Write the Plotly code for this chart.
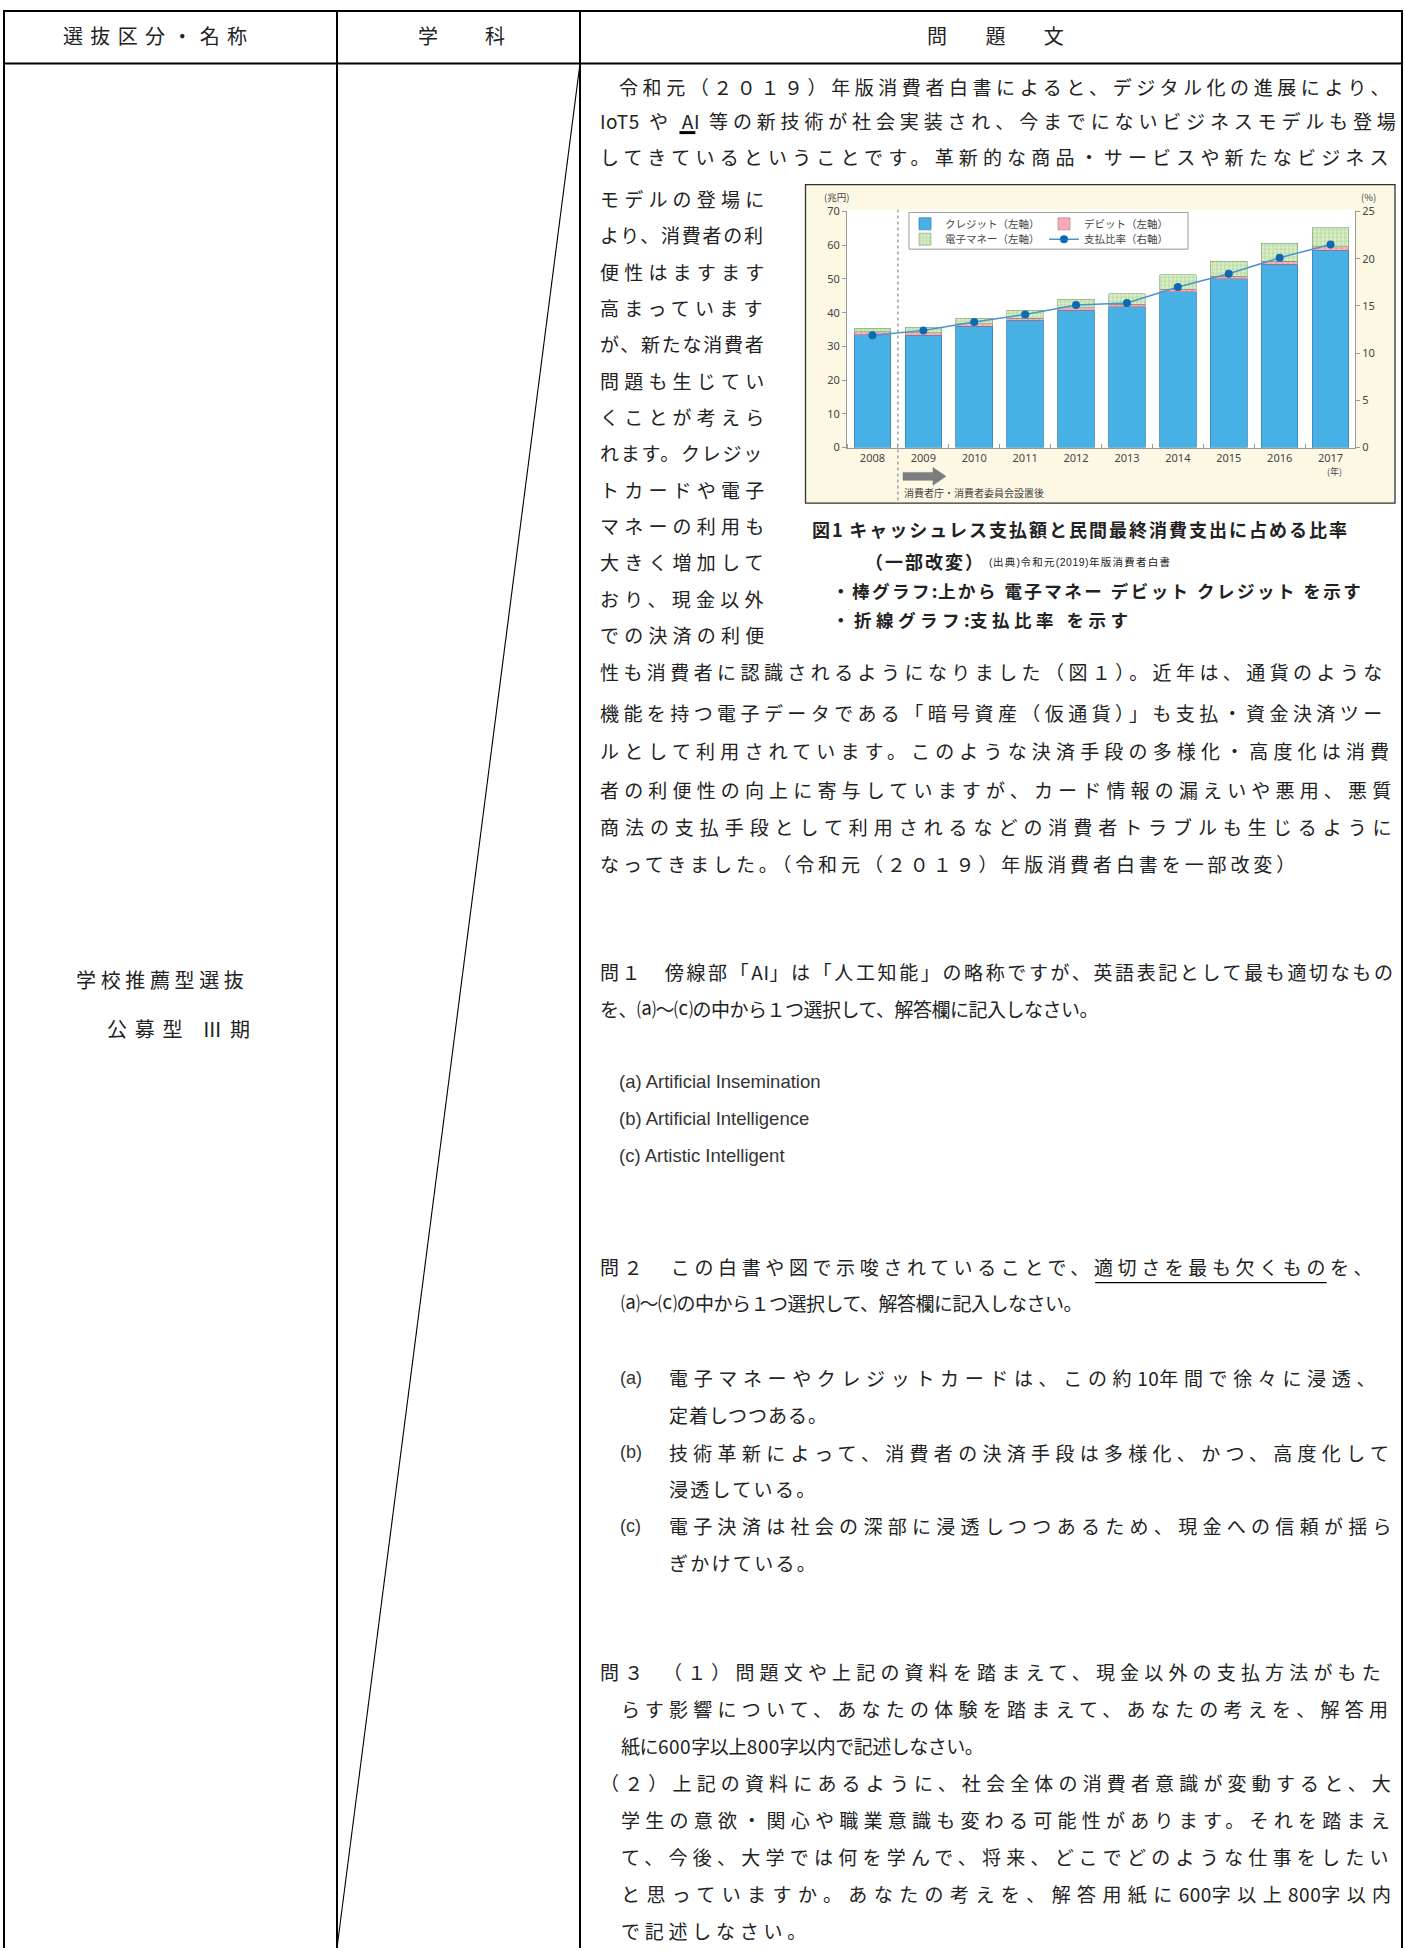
import plotly.graph_objects as go

# ---------------- chart data ----------------
years = [2008, 2009, 2010, 2011, 2012, 2013, 2014, 2015, 2016, 2017]
year_labels = ["2008", "2009", "2010", "2011", "2012", "2013", "2014", "2015", "2016", "2017"]
credit = [33.5, 33.3, 36.0, 37.7, 40.7, 41.8, 46.2, 50.0, 54.3, 58.5]
debit = [0.8, 0.8, 0.7, 0.7, 0.7, 0.7, 0.8, 0.8, 1.0, 1.1]
emoney = [1.1, 1.6, 1.7, 2.3, 2.5, 3.1, 4.3, 4.5, 5.2, 5.6]
ratio = [11.9, 12.4, 13.3, 14.1, 15.1, 15.3, 17.0, 18.4, 20.1, 21.5]
left_ticks = [0, 10, 20, 30, 40, 50, 60, 70]
right_ticks = [0, 5, 10, 15, 20, 25]
series_names = ["クレジット（左軸）", "デビット（左軸）", "電子マネー（左軸）", "支払比率（右軸）"]

# ---------------- page text ----------------
header_texts = ["選抜区分・名称", "学　科", "問　題　文"]
left_texts = ["学校推薦型選抜", "公募型 Ⅲ期"]
intro_lines = [
    "令和元（２０１９）年版消費者白書によると、デジタル化の進展により、",
    "IoT5 や AI 等の新技術が社会実装され、今までにないビジネスモデルも登場",
    "してきているということです。革新的な商品・サービスや新たなビジネス",
]
narrow_lines = [
    "モデルの登場に", "より、消費者の利", "便性はますます", "高まっています",
    "が、新たな消費者", "問題も生じてい", "くことが考えら", "れます。クレジッ",
    "トカードや電子", "マネーの利用も", "大きく増加して", "おり、現金以外", "での決済の利便",
]
after_lines = [
    "性も消費者に認識されるようになりました（図１）。近年は、通貨のような",
    "機能を持つ電子データである「暗号資産（仮通貨）」も支払・資金決済ツー",
    "ルとして利用されています。このような決済手段の多様化・高度化は消費",
    "者の利便性の向上に寄与していますが、カード情報の漏えいや悪用、悪質",
    "商法の支払手段として利用されるなどの消費者トラブルも生じるように",
    "なってきました。（令和元（２０１９）年版消費者白書を一部改変）",
]
caption_lines = [
    "図1 キャッシュレス支払額と民間最終消費支出に占める比率",
    "（一部改変）",
    "(出典)令和元(2019)年版消費者白書",
    "・棒グラフ:上から 電子マネー デビット クレジット を示す",
    "・折線グラフ:支払比率 を示す",
]
q1_lines = [
    "問１　傍線部「AI」は「人工知能」の略称ですが、英語表記として最も適切なもの",
    "を、⒜～⒞の中から１つ選択して、解答欄に記入しなさい。",
]
q1_options = ["(a) Artificial Insemination", "(b) Artificial Intelligence", "(c) Artistic Intelligent"]
q2_lines = [
    "問２　この白書や図で示唆されていることで、適切さを最も欠くものを、",
    "⒜～⒞の中から１つ選択して、解答欄に記入しなさい。",
]
q2_labels = ["(a)", "(b)", "(c)"]
q2_option_lines = [
    "電子マネーやクレジットカードは、この約10年間で徐々に浸透、",
    "定着しつつある。",
    "技術革新によって、消費者の決済手段は多様化、かつ、高度化して",
    "浸透している。",
    "電子決済は社会の深部に浸透しつつあるため、現金への信頼が揺ら",
    "ぎかけている。",
]
q3_lines = [
    "問３　（１）問題文や上記の資料を踏まえて、現金以外の支払方法がもた",
    "らす影響について、あなたの体験を踏まえて、あなたの考えを、解答用",
    "紙に600字以上800字以内で記述しなさい。",
    "（２）上記の資料にあるように、社会全体の消費者意識が変動すると、大",
    "学生の意欲・関心や職業意識も変わる可能性があります。それを踏まえ",
    "て、今後、大学では何を学んで、将来、どこでどのような仕事をしたい",
    "と思っていますか。あなたの考えを、解答用紙に600字以上800字以内",
    "で記述しなさい。",
]

# ---------------- layout helpers ----------------
W, H = 1405, 1955
S = W / 1130.0
CJK = "Noto Sans CJK JP"
LAT = "Liberation Sans, Arial, sans-serif"
TICKF = "Noto Sans, Open Sans, sans-serif"
INK = "#222222"


def XP(x):
    return x / W


def YP(y):
    return 1 - y / H


def is_narrow(ch):
    return ch != " " and ord(ch) < 0x2000


def char_w(ch, fs):
    if ch == " ":
        w = 0.22
    elif ch in "Iijl|.,:;!'":
        w = 0.26
    elif ch in "()[]":
        w = 0.32
    elif ord(ch) < 0x2000:
        w = 0.55
    else:
        w = 1.0
    return w * fs


annotations = []
shapes = []


def text_line(text, x0, y, x1=None, size=19, ls=0.0, ls_a=0.5, bold=False, family=CJK,
              color=INK):
    """Place one text line (page coords of the 1130-wide view); returns char offsets (px)."""
    rx0, ry = x0 * S, y * S
    n = len(text)
    ws = [char_w(c, size) for c in text]
    nar = [is_narrow(c) for c in text]
    if x1 is not None and n > 1:
        target = (x1 - x0) * S
        fixed = sum(ws) + sum(ls_a for i in range(n - 1) if nar[i])
        n_w = sum(1 for i in range(n - 1) if not nar[i])
        ls = (target - fixed) / n_w if n_w else 0.0
        ls = max(ls, -0.5)
    parts = []
    i = 0
    while i < n:
        j = i
        while j < n and nar[j] == nar[i]:
            j += 1
        run = text[i:j]
        sp = ls_a if nar[i] else ls
        if abs(sp) > 0.05:
            parts.append('<span style="letter-spacing:%.2fpx">%s</span>' % (sp, run))
        else:
            parts.append(run)
        i = j
    t = "".join(parts)
    if bold:
        t = "<b>" + t + "</b>"
    annotations.append(dict(
        x=XP(rx0), y=YP(ry), xref="paper", yref="paper", xanchor="left", yanchor="middle",
        text=t, showarrow=False, borderpad=0,
        font=dict(size=size, color=color, family=family),
    ))
    offs = [rx0]
    for k in range(n):
        offs.append(offs[-1] + ws[k] + (ls_a if nar[k] else ls))
    return offs, ws


def line_shape(x0, y0, x1, y1, w=2.0, color="#000", dash="solid", layer="above"):
    shapes.append(dict(type="line", xref="paper", yref="paper",
                       x0=XP(x0), y0=YP(y0), x1=XP(x1), y1=YP(y1),
                       line=dict(color=color, width=w, dash=dash), layer=layer))


def rect_shape(x0, y0, x1, y1, fill, lc=None, lw=0, layer="below"):
    shapes.append(dict(type="rect", xref="paper", yref="paper",
                       x0=XP(x0), y0=YP(y1), x1=XP(x1), y1=YP(y0),
                       fillcolor=fill, line=dict(color=lc or fill, width=lw), layer=layer))


def underline(text, offs, ws, sub, y_real, w):
    k = text.index(sub)
    xa = offs[k]
    xb = offs[k + len(sub) - 1] + ws[k + len(sub) - 1]
    line_shape(xa, y_real, xb, y_real, w)


# ---------------- table frame (real px) ----------------
line_shape(3, 3, 1403, 3, 2)
line_shape(3, 56, 1403, 56, 2)
line_shape(4, 3, 4, 1955, 2)
line_shape(337, 3, 337, 1955, 2)
line_shape(580, 3, 580, 1955, 2)
line_shape(1402, 3, 1402, 1955, 2)
line_shape(580, 56, 337, 1955, 1.1)

# header + left column
text_line(header_texts[0], 50, 22, 198, size=20)
text_line(header_texts[1], 335, 22, 405, size=20)
text_line(header_texts[2], 745, 22, 855, size=20)
text_line(left_texts[0], 60, 787, 195, size=20)
text_line(left_texts[1], 85, 827, 200, size=20)

# intro paragraph
intro_pos = [(497, 64, 1119), (482, 91, 1119), (482, 120, 1119)]
for idx, (t, (x0, y, x1)) in enumerate(zip(intro_lines, intro_pos)):
    offs, ws = text_line(t, x0, y, x1)
    if idx == 1:
        underline(t, offs, ws, "AI", 101 * S, 3)

for i, t in enumerate(narrow_lines):
    text_line(t, 482, 154.5 + i * 29.45, 614)

after_pos = [(538, 1119), (571, 1119), (602, 1119), (633, 1119), (663, 1119), (693, 1050)]
for t, (y, x1) in zip(after_lines, after_pos):
    text_line(t, 482, y, x1)

# figure caption
text_line(caption_lines[0], 652, 422, 1082, size=18, bold=True)
text_line(caption_lines[1], 695, 448, 790, size=18, bold=True)
text_line(caption_lines[2], 795, 449, 940, size=10.5, family=LAT + ", " + CJK)
text_line(caption_lines[3], 668, 472, 1092, size=17.5, bold=True)
text_line(caption_lines[4], 668, 496, 905, size=17.5, bold=True)

# question 1
text_line(q1_lines[0], 482, 781, 1119)
text_line(q1_lines[1], 482, 811, 812)
for i, t in enumerate(q1_options):
    text_line(t, 497, 870 + i * 30, None, size=18.5, ls_a=0.0, family=LAT, color="#333")

# question 2
offs, ws = text_line(q2_lines[0], 482, 1020, 1105)
underline(q2_lines[0], offs, ws, "適切さを最も欠くもの", 1033 * S, 1.3)
text_line(q2_lines[1], 499, 1049, 838)
opt_pos = [(1110, 1105), (1140, 665), (1171, 1119), (1200, 655), (1230, 1119), (1260, 655)]
for t, (y, x1) in zip(q2_option_lines, opt_pos):
    text_line(t, 537, y, x1)
for i, t in enumerate(q2_labels):
    text_line(t, 498, 1110 + i * 60, None, size=18, ls_a=0.0, family=LAT, color="#333")

# question 3
q3_pos = [(482, 1348, 1119), (499, 1378, 1119), (499, 1408, 790), (482, 1438, 1119),
          (499, 1468, 1119), (499, 1498, 1119), (499, 1528, 1119), (499, 1558, 648)]
for t, (x0, y, x1) in zip(q3_lines, q3_pos):
    text_line(t, x0, y, x1)

# ---------------- embedded chart (real px) ----------------
rect_shape(805.5, 178, 1395, 499, "#fdf8e3", "#333333", 1.3)
rect_shape(847, 203, 1355, 443, "#ffffff")
rect_shape(909, 206, 1188, 243, "#ffffff", "#9a9a9a", 1)

shapes.append(dict(type="line", xref="x2", yref="paper", x0=2008.5, x1=2008.5,
                   y0=YP(203), y1=YP(499), line=dict(color="#8a8a8a", width=1.2, dash="dot"),
                   layer="below"))
ax = [903, 933, 933, 946, 933, 933, 903]
ay = [468, 468, 463, 472, 481, 476, 476]
path = "M " + " L ".join("%.5f,%.5f" % (XP(a), YP(b)) for a, b in zip(ax, ay)) + " Z"
shapes.append(dict(type="path", xref="paper", yref="paper", path=path,
                   fillcolor="#7d7d7d", line=dict(color="#7d7d7d", width=0.5), layer="above"))


def small(text, x, y, size=10, anchor="center", color="#444"):
    annotations.append(dict(x=XP(x), y=YP(y), xref="paper", yref="paper", xanchor=anchor,
                            yanchor="middle", text=text, showarrow=False, borderpad=0,
                            font=dict(size=size, color=color, family=CJK)))


small("(兆円)", 837, 190, 9.5)
small("(%)", 1368, 190, 9.5)
small("(年)", 1334, 467, 9)
small("消費者庁・消費者委員会設置後", 903, 488, 10, anchor="left")

fig = go.Figure()
fig.add_trace(go.Bar(x=years, y=credit, name=series_names[0], xaxis="x2", yaxis="y2", width=0.72,
                     marker=dict(color="#47b0e4", line=dict(color="#3a84b5", width=0.8)),
                     legend="legend"))
fig.add_trace(go.Bar(x=years, y=debit, name=series_names[1], xaxis="x2", yaxis="y2", width=0.72,
                     marker=dict(color="#f7b6c2", line=dict(color="#b56f7f", width=0.6),
                                 pattern=dict(shape="x", fgcolor="#de5a74", size=4, solidity=0.3)),
                     legend="legend"))
fig.add_trace(go.Bar(x=years, y=emoney, name=series_names[2], xaxis="x2", yaxis="y2", width=0.72,
                     marker=dict(color="#dcefc9", line=dict(color="#7f9d6e", width=0.6),
                                 pattern=dict(shape="+", fgcolor="#6fb25a", size=4, solidity=0.3)),
                     legend="legend2"))
fig.add_trace(go.Scatter(x=years, y=ratio, name=series_names[3], xaxis="x2", yaxis="y3",
                         mode="lines+markers", line=dict(color="#4796d4", width=1.5),
                         marker=dict(size=8, color="#0d6ab3"), legend="legend2"))

axis_common = dict(showgrid=False, zeroline=False, fixedrange=True, showline=True,
                   linecolor="#9a9a9a", linewidth=1,
                   tickfont=dict(size=11, color="#444", family=TICKF))
leg_common = dict(orientation="h", xanchor="left", yanchor="middle", bgcolor="rgba(0,0,0,0)",
                  font=dict(size=10.5, color="#444", family=CJK), entrywidth=94,
                  entrywidthmode="pixels", itemwidth=30, tracegroupgap=0, traceorder="normal")

fig.update_layout(
    width=W, height=H, autosize=False,
    margin=dict(l=0, r=0, t=0, b=0, pad=0),
    paper_bgcolor="#ffffff", plot_bgcolor="#ffffff",
    barmode="stack", showlegend=True,
    xaxis2=dict(domain=[XP(847), XP(1355)], anchor="y2", range=[2007.5, 2017.48],
                tickmode="array", tickvals=years, ticktext=year_labels, ticks="",
                minor=dict(ticks="inside", tick0=2008.5, dtick=1, ticklen=4, tickcolor="#9a9a9a"),
                **axis_common),
    yaxis2=dict(domain=[YP(443), YP(205)], anchor="x2", range=[0, 70], tickmode="array",
                tickvals=left_ticks, ticks="outside", ticklen=4, tickcolor="#9a9a9a", **axis_common),
    yaxis3=dict(overlaying="y2", side="right", anchor="x2", range=[0, 25], tickmode="array",
                tickvals=right_ticks, ticks="outside", ticklen=4, tickcolor="#9a9a9a", **axis_common),
    legend=dict(x=XP(905), y=YP(217.5), **leg_common),
    legend2=dict(x=XP(905), y=YP(233), **leg_common),
    annotations=annotations,
    shapes=shapes,
    font=dict(family=CJK, color=INK),
)

fig.write_html(
    "out.html", include_plotlyjs=True, config={"displayModeBar": False},
    post_script=(
        "document.documentElement.style.margin='0';document.body.style.margin='0';"
        "document.body.style.padding='0';document.body.style.overflow='hidden';"
        "var gd=document.getElementById('{plot_id}');"
        "gd.style.position='fixed';gd.style.top='0px';gd.style.left='0px';"
    ),
)
